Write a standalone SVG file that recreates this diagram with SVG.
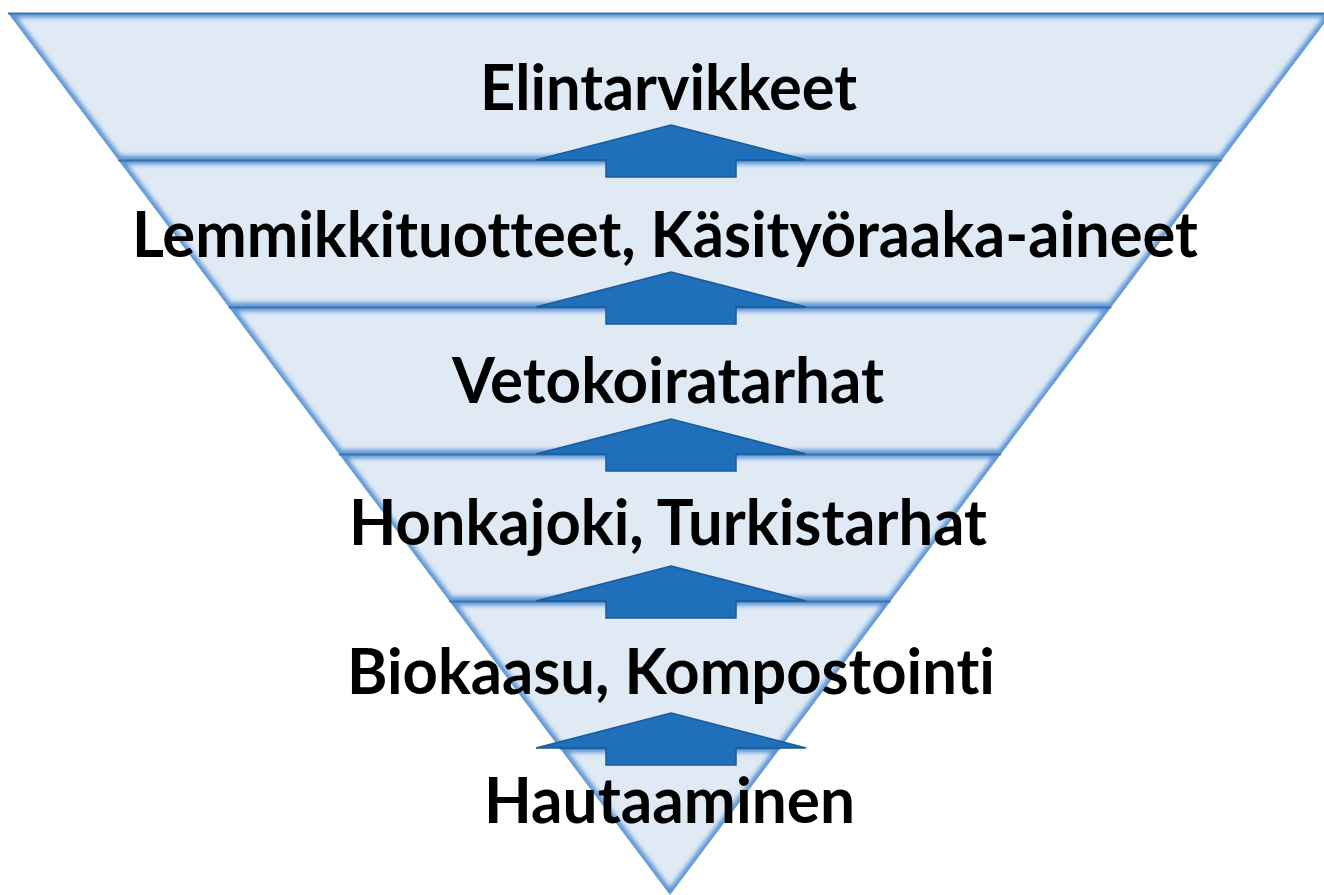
<svg xmlns="http://www.w3.org/2000/svg" width="1324" height="895" viewBox="0 0 1324 895">
  <style>
    .fill { fill: #DFEAF5; }
    .glow { fill: none; stroke: #5E97D6; stroke-width: 9; filter: url(#blur); }
    .hl { stroke: #F2FBFF; stroke-width: 5; filter: url(#blur1); }
    .edge { stroke: #3F72AB; stroke-width: 2; }
    .arrow { fill: #1F6FBA; stroke: #1A5B9A; stroke-width: 1.5; stroke-linejoin: miter; }
    .lbl { font-family: Lato, "Open Sans", "Liberation Sans", sans-serif; font-weight: bold; font-size: 64px; fill: #000; font-variant-ligatures: none; font-feature-settings: "liga" 0, "clig" 0; }
  </style>
  <defs>
    <filter id="blur" x="-10%" y="-10%" width="120%" height="120%">
      <feGaussianBlur stdDeviation="2.2"/>
    </filter>
    <filter id="blur1" x="-10%" y="-50%" width="120%" height="200%">
      <feGaussianBlur stdDeviation="1.2"/>
    </filter>
    <clipPath id="c1"><polygon points="8,13 1332,13 1221.67,160 118.33,160"/></clipPath>
    <clipPath id="c2"><polygon points="118.33,160 1221.67,160 1111.33,307 228.67,307"/></clipPath>
    <clipPath id="c3"><polygon points="228.67,307 1111.33,307 1001,454 339,454"/></clipPath>
    <clipPath id="c4"><polygon points="339,454 1001,454 890.67,601 449.33,601"/></clipPath>
    <clipPath id="c5"><polygon points="449.33,601 890.67,601 780.33,748 559.67,748"/></clipPath>
    <clipPath id="c6"><polygon points="559.67,748 780.33,748 670,895"/></clipPath>
  </defs>

  <g id="band1">
    <polygon class="fill" points="8,13 1332,13 1221.67,160 118.33,160"/>
    <g clip-path="url(#c1)">
      <polygon class="glow" points="8,13 1332,13 1221.67,160 118.33,160"/>
      <line class="hl" x1="118" y1="158" x2="1222" y2="158"/>
    </g>
    <line class="edge" x1="8" y1="13.5" x2="1332" y2="13.5"/>
  </g>
  <g id="band2">
    <polygon class="fill" points="118.33,160 1221.67,160 1111.33,307 228.67,307"/>
    <g clip-path="url(#c2)">
      <polygon class="glow" points="118.33,160 1221.67,160 1111.33,307 228.67,307"/>
      <line class="hl" x1="228" y1="305" x2="1112" y2="305"/>
    </g>
    <line class="edge" x1="118.33" y1="160.5" x2="1221.67" y2="160.5"/>
  </g>
  <g id="band3">
    <polygon class="fill" points="228.67,307 1111.33,307 1001,454 339,454"/>
    <g clip-path="url(#c3)">
      <polygon class="glow" points="228.67,307 1111.33,307 1001,454 339,454"/>
      <line class="hl" x1="339" y1="452" x2="1001" y2="452"/>
    </g>
    <line class="edge" x1="228.67" y1="307.5" x2="1111.33" y2="307.5"/>
  </g>
  <g id="band4">
    <polygon class="fill" points="339,454 1001,454 890.67,601 449.33,601"/>
    <g clip-path="url(#c4)">
      <polygon class="glow" points="339,454 1001,454 890.67,601 449.33,601"/>
      <line class="hl" x1="449" y1="599" x2="891" y2="599"/>
    </g>
    <line class="edge" x1="339" y1="454.5" x2="1001" y2="454.5"/>
  </g>
  <g id="band5">
    <polygon class="fill" points="449.33,601 890.67,601 780.33,748 559.67,748"/>
    <g clip-path="url(#c5)">
      <polygon class="glow" points="449.33,601 890.67,601 780.33,748 559.67,748"/>
      <line class="hl" x1="559" y1="746" x2="781" y2="746"/>
    </g>
    <line class="edge" x1="449.33" y1="601.5" x2="890.67" y2="601.5"/>
  </g>
  <g id="band6">
    <polygon class="fill" points="559.67,748 780.33,748 670,895"/>
    <g clip-path="url(#c6)">
      <polygon class="glow" points="559.67,748 780.33,748 670,895"/>
    </g>
    <line class="edge" x1="559.67" y1="748.5" x2="780.33" y2="748.5"/>
  </g>

  <g id="connectors">
    <polygon class="arrow" points="671,125 806,160 736,160 736,177 606,177 606,160 536,160"/>
    <polygon class="arrow" points="671,272 806,307 736,307 736,324 606,324 606,307 536,307"/>
    <polygon class="arrow" points="671,419 806,454 736,454 736,471 606,471 606,454 536,454"/>
    <polygon class="arrow" points="671,566 806,601 736,601 736,618 606,618 606,601 536,601"/>
    <polygon class="arrow" points="671,713 806,748 736,748 736,765 606,765 606,748 536,748"/>
  </g>

  <g id="labels">
    <text class="lbl" x="480" y="110" textLength="377" lengthAdjust="spacingAndGlyphs">Elintarvikkeet</text>
    <text class="lbl" x="132" y="257" textLength="1066" lengthAdjust="spacingAndGlyphs">Lemmikkituotteet, Käsityöraaka-aineet</text>
    <text class="lbl" x="452" y="403" textLength="432" lengthAdjust="spacingAndGlyphs">Vetokoiratarhat</text>
    <text class="lbl" x="349" y="545" textLength="638" lengthAdjust="spacingAndGlyphs">Honkajoki, Turkistarhat</text>
    <text class="lbl" x="347" y="694" textLength="648" lengthAdjust="spacingAndGlyphs">Biokaasu, Kompostointi</text>
    <text class="lbl" x="484" y="823" textLength="371" lengthAdjust="spacingAndGlyphs">Hautaaminen</text>
  </g>
</svg>
